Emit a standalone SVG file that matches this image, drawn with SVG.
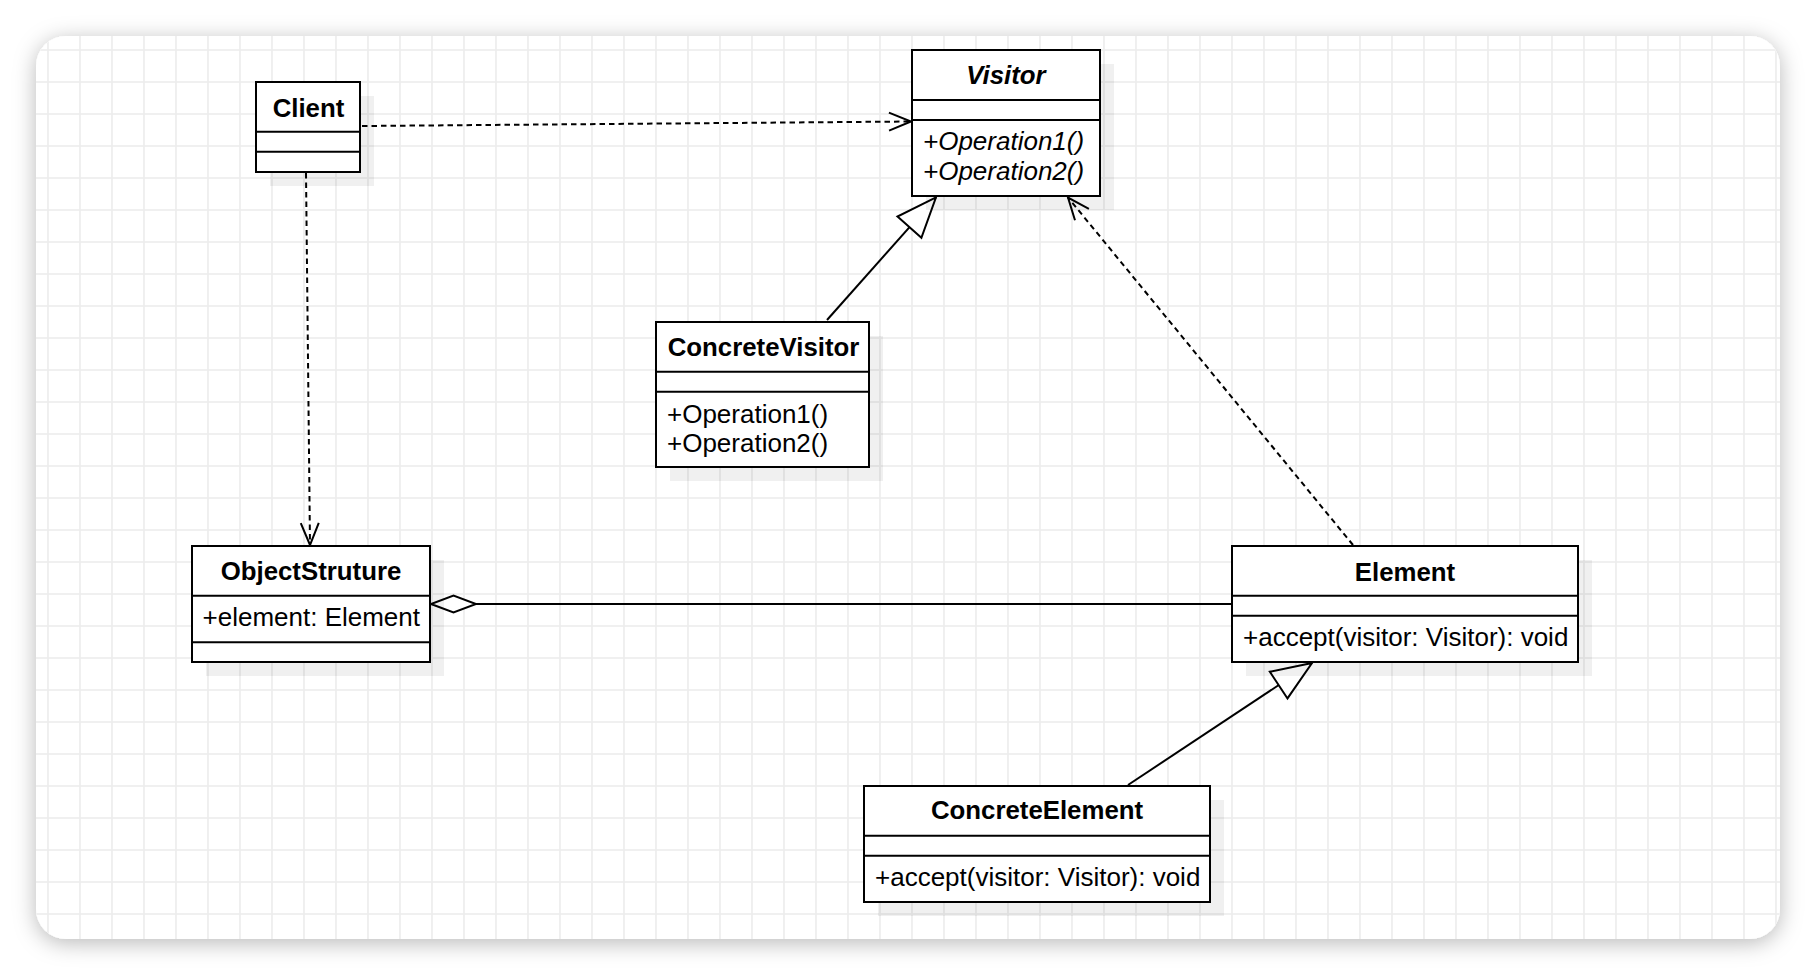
<svg xmlns="http://www.w3.org/2000/svg" width="1816" height="976" viewBox="0 0 1816 976">
<defs>
<filter id="pageShadow" x="-5%" y="-10%" width="110%" height="120%">
<feDropShadow dx="0" dy="4" stdDeviation="11" flood-color="#000" flood-opacity="0.28"/>
</filter>
<pattern id="grid" x="0" y="0" width="32" height="32" patternUnits="userSpaceOnUse">
<path d="M16,0 V32 M0,18 H32" stroke="#ececec" stroke-width="1.6" fill="none"/>
</pattern>
<clipPath id="pageClip"><rect x="36" y="36" width="1744" height="903" rx="30" ry="30"/></clipPath>
<marker id="openArrow" markerUnits="userSpaceOnUse" markerWidth="30" markerHeight="24" refX="0" refY="0" viewBox="-26 -12 30 24" orient="auto" overflow="visible">
<path d="M-22,-9 L0,0 L-22,9" fill="none" stroke="#000" stroke-width="2" stroke-dasharray="none"/>
</marker>
<marker id="triangle" markerUnits="userSpaceOnUse" markerWidth="46" markerHeight="40" refX="0" refY="0" viewBox="-44 -20 46 40" orient="auto" overflow="visible">
<path d="M0,0 L-40,-16 L-40,16 Z" fill="#fff" stroke="#000" stroke-width="2"/>
</marker>
<marker id="diamond" markerUnits="userSpaceOnUse" markerWidth="50" markerHeight="24" refX="0" refY="0" viewBox="-48 -12 50 24" orient="auto" overflow="visible">
<path d="M0,0 L-22.5,-8.5 L-45,0 L-22.5,8.5 Z" fill="#fff" stroke="#000" stroke-width="2"/>
</marker>
</defs>
<style>
.box{fill:#fff;stroke:#000;stroke-width:2}
.shadow{fill:#000;opacity:0.06}
.div{stroke:#000;stroke-width:2}
.title{font-family:"Liberation Sans",Arial,sans-serif;font-size:25.8px;font-weight:bold;text-anchor:middle;fill:#000}
.txt{font-family:"Liberation Sans",Arial,sans-serif;font-size:26px;fill:#000}
.it{font-style:italic}
.conn{fill:none;stroke:#000;stroke-width:2}
.dash{stroke-dasharray:5.5 4}
</style>
<rect x="0" y="0" width="1816" height="976" fill="#fff"/>
<rect x="36" y="36" width="1744" height="903" rx="30" ry="30" fill="#fff" filter="url(#pageShadow)"/>
<rect x="36" y="36" width="1744" height="903" fill="url(#grid)" clip-path="url(#pageClip)"/>

<g id="connectors">
<path class="conn dash" d="M362,126 L911,121.5" marker-end="url(#openArrow)"/>
<path class="conn dash" d="M306,173 L310,545" marker-end="url(#openArrow)"/>
<path class="conn" d="M827,320 L936,197.3" marker-end="url(#triangle)"/>
<path class="conn dash" d="M1353,545 L1068,197.5" marker-end="url(#openArrow)"/>
<path class="conn" d="M1128,785 L1312,663" marker-end="url(#triangle)"/>
<path class="conn" d="M1231,604 L431,604" marker-end="url(#diamond)"/>
</g>

<g id="client">
<rect class="shadow" x="270" y="96" width="104" height="90"/>
<rect class="box" x="256" y="82" width="104" height="90"/>
<line class="div" x1="256" y1="131.7" x2="361" y2="131.7"/>
<line class="div" x1="256" y1="151.7" x2="361" y2="151.7"/>
<text class="title" x="308.5" y="116.5">Client</text>
</g>

<g id="visitor">
<rect class="shadow" x="926" y="64" width="188" height="146"/>
<rect class="box" x="912" y="50" width="188" height="146"/>
<line class="div" x1="912" y1="100" x2="1101" y2="100"/>
<line class="div" x1="912" y1="120" x2="1101" y2="120"/>
<text class="title it" x="1006" y="84">Visitor</text>
<text class="txt it" x="923" y="150">+Operation1()</text>
<text class="txt it" x="923" y="179.5">+Operation2()</text>
</g>

<g id="concreteVisitor">
<rect class="shadow" x="670" y="336" width="213" height="145"/>
<rect class="box" x="656" y="322" width="213" height="145"/>
<line class="div" x1="656" y1="371.7" x2="870" y2="371.7"/>
<line class="div" x1="656" y1="391.7" x2="870" y2="391.7"/>
<text class="title" x="763.5" y="356">ConcreteVisitor</text>
<text class="txt" x="667" y="423">+Operation1()</text>
<text class="txt" x="667" y="451.5">+Operation2()</text>
</g>

<g id="objectStruture">
<rect class="shadow" x="206" y="560" width="238" height="116"/>
<rect class="box" x="192" y="546" width="238" height="116"/>
<line class="div" x1="192" y1="595.7" x2="431" y2="595.7"/>
<line class="div" x1="192" y1="642.3" x2="431" y2="642.3"/>
<text class="title" x="311" y="580">ObjectStruture</text>
<text class="txt" x="202.5" y="625.5">+element: Element</text>
</g>

<g id="element">
<rect class="shadow" x="1246" y="560" width="346" height="116"/>
<rect class="box" x="1232" y="546" width="346" height="116"/>
<line class="div" x1="1232" y1="595.7" x2="1579" y2="595.7"/>
<line class="div" x1="1232" y1="615.7" x2="1579" y2="615.7"/>
<text class="title" x="1405" y="580.5">Element</text>
<text class="txt" x="1243" y="645.5">+accept(visitor: Visitor): void</text>
</g>

<g id="concreteElement">
<rect class="shadow" x="878" y="800" width="346" height="116"/>
<rect class="box" x="864" y="786" width="346" height="116"/>
<line class="div" x1="864" y1="835.7" x2="1211" y2="835.7"/>
<line class="div" x1="864" y1="855.7" x2="1211" y2="855.7"/>
<text class="title" x="1037" y="819">ConcreteElement</text>
<text class="txt" x="875" y="885.5">+accept(visitor: Visitor): void</text>
</g>
</svg>
